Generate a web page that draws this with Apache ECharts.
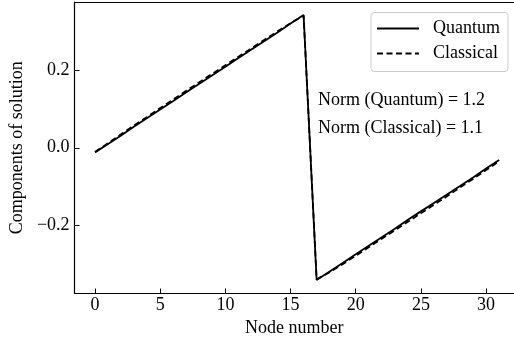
<!DOCTYPE html>
<html>
<head>
<meta charset="utf-8">
<script src="https://cdn.jsdelivr.net/npm/echarts@6/dist/echarts.min.js"></script>
<style>
  html, body { margin: 0; padding: 0; background: #fff; }
  #chart { width: 514px; height: 345px; }
</style>
</head>
<body>
<div id="chart"></div>
<script>
// node index 0..31
const nodes = [0, 1, 2, 3, 4, 5, 6, 7, 8, 9, 10, 11, 12, 13, 14, 15,
               16, 17, 18, 19, 20, 21, 22, 23, 24, 25, 26, 27, 28, 29, 30, 31];
// solution components
const quantum = [-0.012, 0.010, 0.032, 0.055, 0.077, 0.099, 0.121, 0.144, 0.166, 0.188,
                 0.210, 0.233, 0.255, 0.277, 0.299, 0.322, 0.344,
                 -0.343, -0.321, -0.299, -0.276, -0.254, -0.232, -0.210, -0.187,
                 -0.165, -0.143, -0.121, -0.099, -0.077, -0.054, -0.032];
const classical = [-0.011, 0.012, 0.035, 0.058, 0.080, 0.103, 0.125, 0.148, 0.170, 0.192,
                   0.214, 0.236, 0.258, 0.280, 0.302, 0.323, 0.343,
                   -0.341, -0.323, -0.302, -0.280, -0.258, -0.236, -0.214, -0.192,
                   -0.170, -0.148, -0.126, -0.103, -0.081, -0.058, -0.035];
const xTicks = [0, 5, 10, 15, 20, 25, 30];
const yTicks = [-0.2, 0.0, 0.2];
const normLines = ['Norm (Quantum) = 1.2', 'Norm (Classical) = 1.1'];

const font = 'Liberation Serif';
const fs = 18;

let myChart = echarts.init(document.getElementById('chart'), null, { renderer: 'canvas' });

const pairs = arr => nodes.map((n, i) => [n, arr[i]]);

// axis range: the right spine falls outside the picture, so the grid ends at the edge
const xMin = -1.57, xMax = 32.14;

let options = {
    animation: false,
    textStyle: { fontFamily: font },
    grid: { left: 70.5, top: 2, bottom: 51.5, right: 0 },
    xAxis: [
        {
            type: 'value',
            min: xMin, max: xMax,
            name: 'Node number',
            nameLocation: 'middle',
            nameGap: 25,
            nameTextStyle: { fontFamily: font, fontSize: fs, color: '#000' },
            axisLine: { show: true, onZero: false, lineStyle: { color: '#000', width: 1.2 } },
            axisTick: { show: true, inside: true, length: 5, customValues: xTicks, lineStyle: { color: '#000', width: 1 } },
            axisLabel: { customValues: xTicks, margin: 3, fontFamily: font, fontSize: fs, color: '#000' },
            splitLine: { show: false }
        },
        {
            // top spine only
            type: 'value', position: 'top',
            min: xMin, max: xMax,
            axisLine: { show: true, onZero: false, lineStyle: { color: '#000', width: 1.2 } },
            axisTick: { show: false },
            axisLabel: { show: false },
            splitLine: { show: false }
        }
    ],
    yAxis: {
        type: 'value',
        min: -0.378, max: 0.378,
        name: 'Components of solution',
        nameLocation: 'middle',
        nameGap: 44,
        nameTextStyle: { fontFamily: font, fontSize: fs, color: '#000' },
        axisLine: { show: true, onZero: false, lineStyle: { color: '#000', width: 1.2 } },
        axisTick: { show: true, inside: true, length: 5, customValues: yTicks, lineStyle: { color: '#000', width: 1 } },
        axisLabel: {
            customValues: yTicks, margin: 5, fontFamily: font, fontSize: fs, color: '#000',
            formatter: v => v.toFixed(1).replace('-', '\u2212')
        },
        splitLine: { show: false }
    },
    legend: {
        orient: 'vertical',
        left: 371, top: 12.5,
        padding: [7, 8, 9, 5],
        itemWidth: 42, itemHeight: 14, itemGap: 7,
        borderColor: '#cccccc', borderWidth: 1, borderRadius: 3,
        itemStyle: { color: 'transparent', borderWidth: 0 },
        textStyle: { fontFamily: font, fontSize: fs, color: '#000', lineHeight: 18, padding: [0, 0, 0, 9] },
        data: ['Quantum', 'Classical']
    },
    graphic: normLines.map((t, i) => ({
        type: 'text',
        left: 318, top: 91 + i * 28,
        style: { text: t, font: fs + 'px "' + font + '"', fill: '#000' }
    })),
    series: [
        {
            name: 'Quantum', type: 'line', data: pairs(quantum),
            symbol: 'none', lineStyle: { color: '#000', width: 1.8 }, itemStyle: { color: '#000' }
        },
        {
            name: 'Classical', type: 'line', data: pairs(classical),
            symbol: 'none', lineStyle: { color: '#000', width: 1.8, type: [6, 3.5] }, itemStyle: { color: '#000' }
        }
    ]
};

myChart.setOption(options);
</script>
</body>
</html>
